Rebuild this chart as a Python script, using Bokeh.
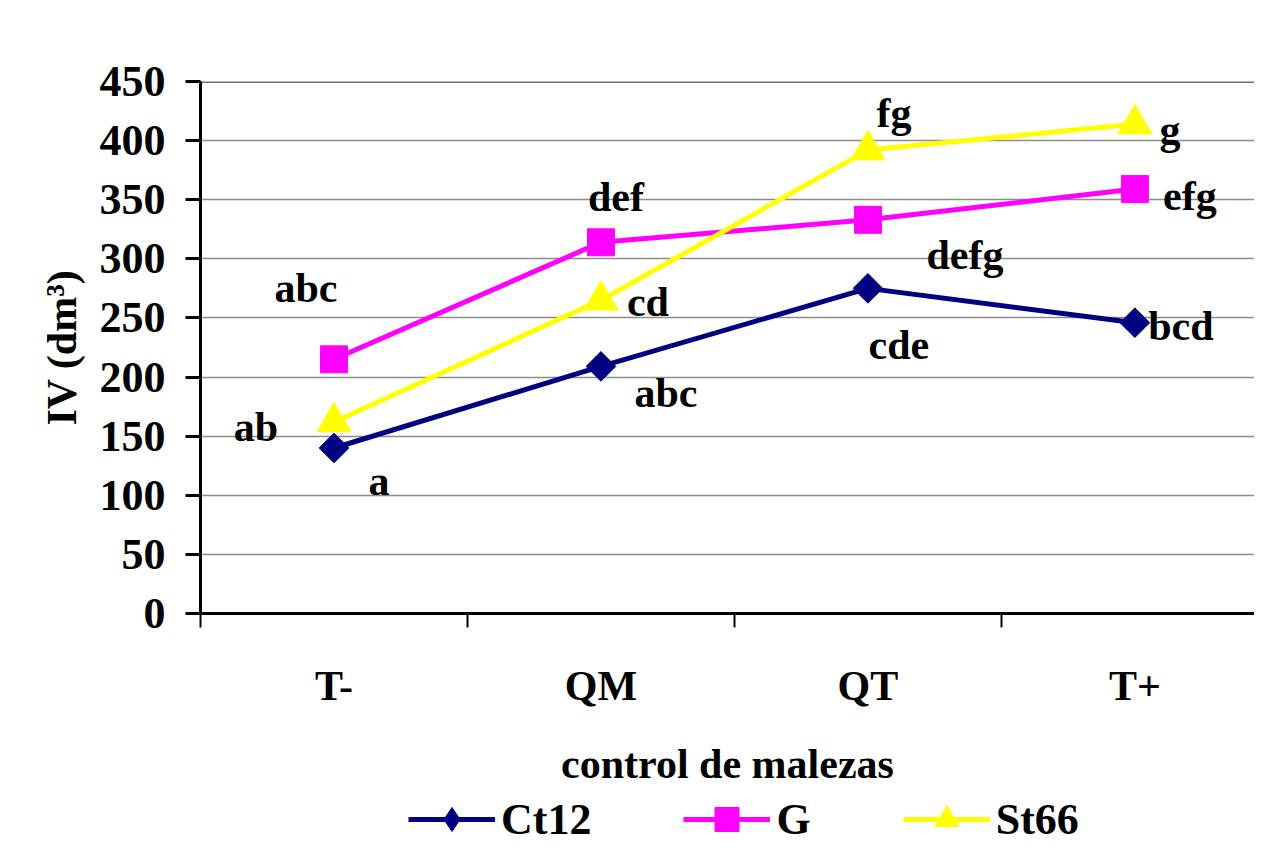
import numpy as np
from bokeh.plotting import figure
from bokeh.layouts import column
from bokeh.models import (Range1d, FixedTicker, Legend, LegendItem, ColumnDataSource)
from bokeh.core.properties import value
from bokeh.embed import file_html
from bokeh.resources import INLINE

categories = ["T-", "QM", "QT", "T+"]
ct12 = [140, 209, 275, 246]
g = [215, 314, 333, 359]
st66 = [162, 265, 392, 414]
ct12_labels = ["a", "abc", "cde", "bcd"]
g_labels = ["abc", "def", "defg", "efg"]
st66_labels = ["ab", "cd", "fg", "g"]
y_ticks = [0, 50, 100, 150, 200, 250, 300, 350, 400, 450]

FONT = "Liberation Serif"
xs = [i + 0.5 for i in range(len(categories))]

p = figure(frame_width=1054, frame_height=532, output_backend="svg", toolbar_location=None,
           x_range=Range1d(0, 3.948), y_range=Range1d(0, 450),
           min_border_left=200, min_border_top=81, min_border_right=0,
           min_border_bottom=0)
p.background_fill_color = "white"
p.border_fill_color = "white"
p.outline_line_color = None

# grid
p.xgrid.visible = False
p.ygrid.ticker = FixedTicker(ticks=y_ticks)
p.ygrid.grid_line_color = "#8c8c8c"
p.ygrid.grid_line_width = 1.5

# y axis
p.yaxis.ticker = FixedTicker(ticks=y_ticks)
p.yaxis.axis_line_width = 3
p.yaxis.major_tick_line_width = 3
p.yaxis.major_tick_out = 15
p.yaxis.major_tick_in = 0
p.yaxis.minor_tick_line_color = None
p.yaxis.major_label_text_font = FONT
p.yaxis.major_label_text_font_style = "bold"
p.yaxis.major_label_text_font_size = "44px"
p.yaxis.major_label_text_color = "black"
p.yaxis.major_label_standoff = 20
p.yaxis.axis_label = "IV (dm³)"
p.yaxis.axis_label_text_font = FONT
p.yaxis.axis_label_text_font_style = "bold"
p.yaxis.axis_label_text_font_size = "42px"
p.yaxis.axis_label_text_color = "black"
p.yaxis.axis_label_standoff = 12

# x axis: labels at category centres, tick marks at boundaries
p.xaxis.ticker = FixedTicker(ticks=xs, minor_ticks=list(range(len(categories) + 1)))
p.xaxis.major_label_overrides = {x: c for x, c in zip(xs, categories)}
p.xaxis.axis_line_width = 3
p.xaxis.major_tick_out = 0
p.xaxis.major_tick_in = 0
p.xaxis.major_tick_line_color = None
p.xaxis.minor_tick_out = 14
p.xaxis.minor_tick_in = 0
p.xaxis.minor_tick_line_width = 2
p.xaxis.minor_tick_line_color = "black"
p.xaxis.major_label_text_font = FONT
p.xaxis.major_label_text_font_style = "bold"
p.xaxis.major_label_text_font_size = "42px"
p.xaxis.major_label_text_color = "black"
p.xaxis.major_label_standoff = 35
p.xaxis.axis_label = "control de malezas"
p.xaxis.axis_label_text_font = FONT
p.xaxis.axis_label_text_font_style = "bold"
p.xaxis.axis_label_text_font_size = "42px"
p.xaxis.axis_label_text_color = "black"
p.xaxis.axis_label_standoff = 29

# top border line
p.line(x=[0, 3.948], y=[450, 450], line_color="#6e6e6e", line_width=3)

# legend figure (below the chart)
q = figure(width=1254, height=60, output_backend="svg", toolbar_location=None,
           x_range=Range1d(0, 1), y_range=Range1d(0, 1),
           x_axis_location=None, y_axis_location=None,
           min_border=0)
q.grid.visible = False
q.outline_line_color = None
q.background_fill_color = "white"
q.border_fill_color = "white"

series = [
    ("Ct12", ct12, "#000080", "square", 21, np.pi / 4, "diamond", ct12_labels,
     [(45, 33), (65, 27), (31, 57), (46, 3)]),
    ("G", g, "#FF00FF", "square", 27, 0, "square", g_labels,
     [(-28, -71), (15, -45), (97, 35), (55, 7)]),
    ("St66", st66, "#FFFF00", "triangle", 34, 0, "triangle", st66_labels,
     [(-78, 5), (47, 2), (26, -37), (35, 6)]),
]

items = []
for name, vals, color, marker, size, ang, leg_marker, labels, offs in series:
    src = ColumnDataSource(dict(x=xs, y=vals))
    p.line("x", "y", source=src, line_color=color, line_width=5)
    p.scatter("x", "y", source=src, marker=marker, size=size, angle=ang,
              fill_color=color, line_color=color)
    for xv, yv, lab, (dx, dy) in zip(xs, vals, labels, offs):
        p.text(x=[xv], y=[yv], text=[lab], x_offset=dx, y_offset=dy,
               text_font=value(FONT), text_font_style="bold",
               text_font_size="42px", text_color="black",
               text_align="center", text_baseline="middle")
    # hidden copies in the legend figure, used only for the legend entries
    l1 = q.line("x", "y", source=src, line_color=color, line_width=5, visible=False)
    l2 = q.scatter("x", "y", source=src, marker=leg_marker, size=size,
                   fill_color=color, line_color=color, visible=False)
    items.append(LegendItem(label=name, renderers=[l1, l2]))

legend = Legend(items=items, orientation="horizontal", location=(208, 0),
                glyph_width=87, glyph_height=60, label_standoff=6, spacing=92,
                label_text_font=FONT, label_text_font_style="bold",
                label_text_font_size="44px", label_text_color="black",
                label_height=60, border_line_color=None,
                background_fill_alpha=0, padding=0, margin=0)
q.add_layout(legend, "center")

layout = column(p, q, spacing=0)
open("out.html", "w").write(file_html(layout, INLINE))
